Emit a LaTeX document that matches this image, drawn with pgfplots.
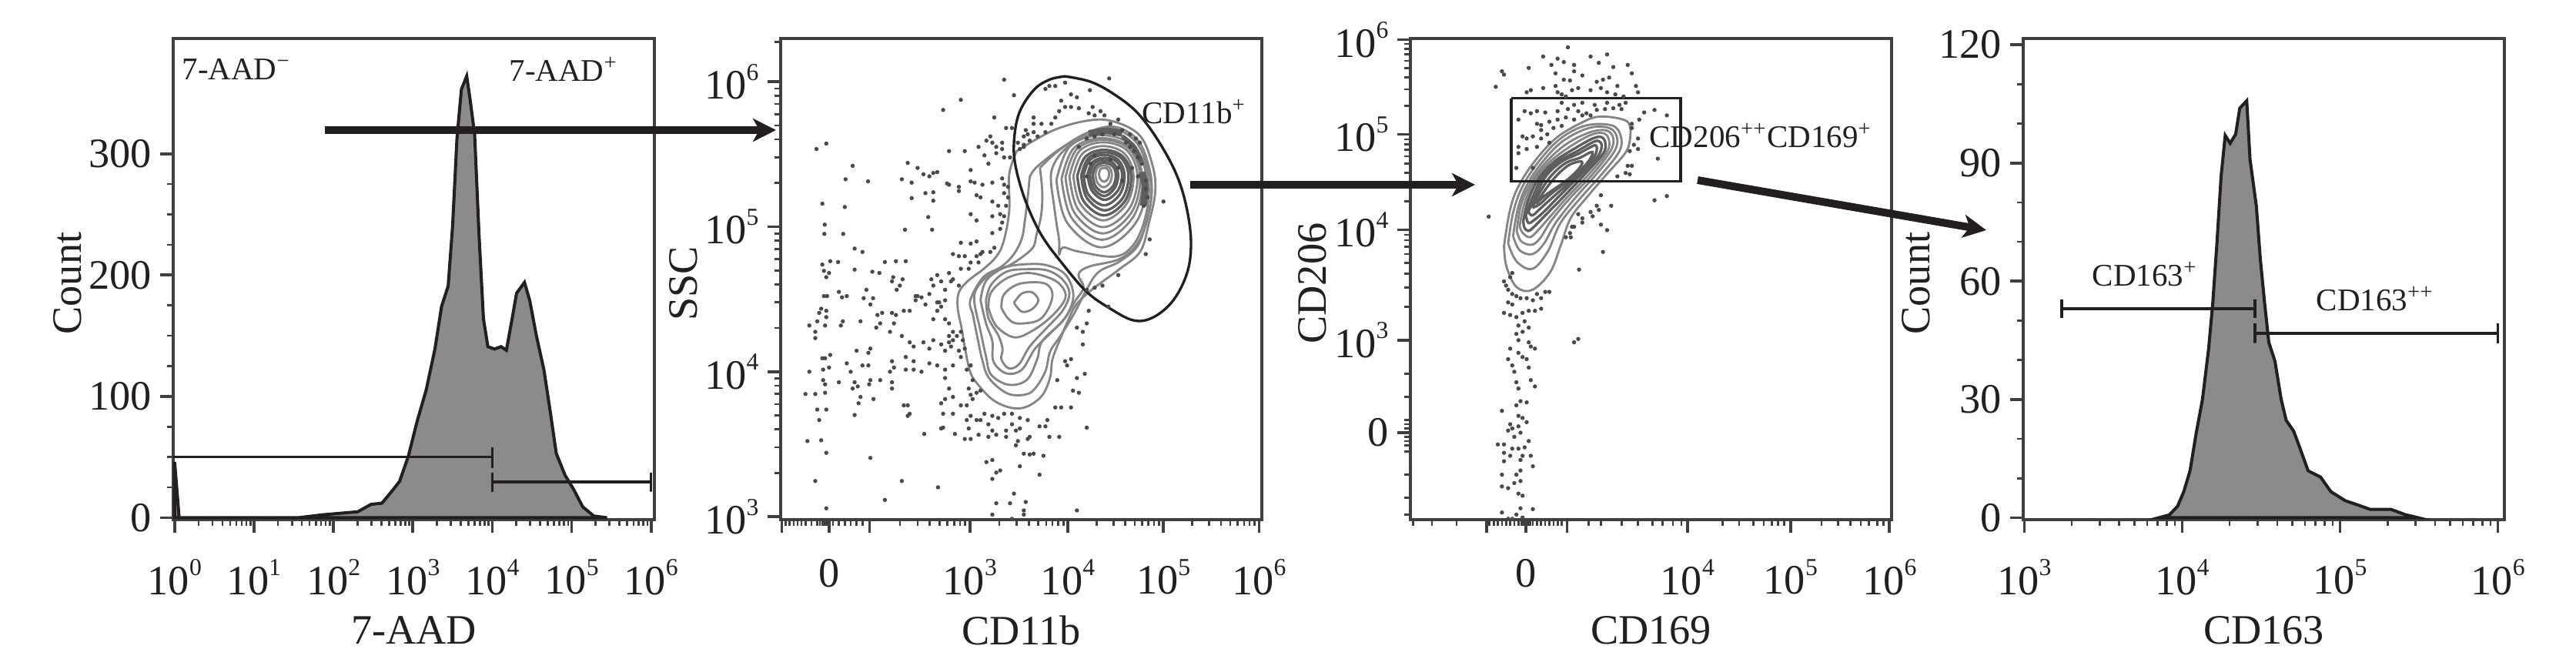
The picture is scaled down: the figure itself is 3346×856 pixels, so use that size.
\documentclass[border=0pt]{standalone}
\usepackage{fontspec}
\setmainfont{Liberation Serif}
\usepackage{pgfplots}
\pgfplotsset{compat=1.18}
\usetikzlibrary{arrows.meta}
\definecolor{ink}{HTML}{231F20}
\definecolor{frame}{HTML}{403E3F}
\definecolor{hist}{HTML}{8C8A8B}
\definecolor{ctr}{HTML}{858585}
\definecolor{ctrd}{HTML}{5E5E5E}
\definecolor{dot}{HTML}{4A4A4A}
\newcommand\up[1]{\raisebox{0.45em}{\fontsize{9.5}{9.5}\selectfont #1}}
\newcommand\biglab{\fontsize{16.3}{17}\selectfont}
\newcommand\smlab{\fontsize{12.3}{13}\selectfont}
\pgfplotsset{
  panel/.style={
    scale only axis, width=187.5pt, height=187.5pt,
    axis line style={color=frame,line width=1.1pt},
    tick style={color=frame},
    major tick length=5pt, minor tick length=2.4pt,
    every major tick/.append style={line width=1.1pt},
    every minor tick/.append style={line width=0.8pt},
    tick align=outside,
    ytick pos=left, xtick pos=bottom,
    tick label style={font=\biglab,text=ink},
    label style={font=\biglab,text=ink},
    /pgf/number format/assume math mode=true,
    ylabel style={anchor=center},
    xlabel style={anchor=center},
    xticklabel style={yshift=-7pt},
  },
  gate/.style={color=ink,line width=1.05pt,sharp plot,no marks},
  histline/.style={color=ink,line width=1.2pt,fill=hist,sharp plot,no marks},
  contour/.style={color=ctr,line width=0.85pt,smooth,tension=0.6,no marks},
  contourd/.style={color=ctrd,line width=1pt,smooth,tension=0.6,no marks},
  cells/.style={only marks,mark=*,mark size=0.6pt,color=dot},
}
\begin{document}
\begin{tikzpicture}[x=0.3pt,y=0.3pt]
\path[use as bounding box] (0,0) rectangle (3346,856);

% 7-AAD histogram
\begin{axis}[panel, at={(67.5pt,54.3pt)}, anchor=south west,
  xmode=log, xmin=0.96, xmax=1.1e6, ymin=-1.6, ymax=395,
  xtick={1,10,100,1000,10000,100000,1000000},
  xticklabels={10\up{0},10\up{1},10\up{2},10\up{3},10\up{4},10\up{5},10\up{6}},
  ytick={0,100,200,300}, minor y tick num=3,
  xlabel={7-AAD}, ylabel={Count},
  xlabel style={at={(axis description cs:0.5,-0.23)}},
  ylabel style={at={(axis description cs:-0.22,0.491)}},
]
\addplot[histline] coordinates {(1,46) (1.14,0) (36,0) (73,2.4) (202,4.9) (297,11) (408,12) (562,23)
 (681,30) (880,51) (1137,80) (1468,105) (1896,139) (2296,174) (2783,191) (3162,240) (3594,313)
 (4084,353) (4764,364) (5275,344) (5995,316) (6813,233) (7743,164) (8799,141) (10660,139)
 (12920,141) (15050,138) (17780,164) (20220,185) (25450,194) (29650,179) (35940,150) (44670,122)
 (52730,91) (63970,53) (82540,35) (106600,23) (137700,9) (189600,1.4) (278200,0)} \closedcycle;
\addplot[gate] coordinates {(0.96,50) (10000,50) (10000,58) (10000,41)};
\addplot[gate] coordinates {(1000000,37) (1000000,21.5) (1000000,29.5) (10000,29.5) (10000,37) (10000,21.5)};
\end{axis}

% CD11b vs SSC, in display channels of the plot
\begin{axis}[panel, at={(304.2pt,54.3pt)}, anchor=south west,
  xmin=262, xmax=1485, ymin=92, ymax=1237, y dir=reverse,
  xtick={265,385,488,743,992,1235,1478},
  xticklabels={,0,,10\up{3},10\up{4},10\up{5},10\up{6}},
  minor xtick={275,285,295,305,315,325,340,355,362,368,374,380,395,410,425,440,455,470,565,610,641,666,686,703,718,731,818,862,893,917,937,953,968,981,1065,1108,1138,1162,1181,1197,1211,1224,1308,1351,1381,1405,1424,1440,1454,1467},
  ytick={1230,885,540,195},
  yticklabels={10\up{3},10\up{4},10\up{5},10\up{6}},
  minor ytick={1126,1065,1022,989,962,938,918,901,781,720,677,644,617,593,573,556,436,375,332,299,272,248,228,211,100},
  xlabel={CD11b}, ylabel={SSC},
  xlabel style={at={(axis description cs:0.5,-0.23)}},
  ylabel style={at={(axis description cs:-0.202,0.491)}},
]
\addplot[cells] coordinates {(353,355) (378,342) (445,395) (427,427) (484,432) (368,485) (425,493) (374,535)
 (373,557) (421,557) (450,592) (470,600) (388,622) (408,624) (368,630) (372,645) (385,650) (378,660) (450,642)
 (495,647) (513,650) (527,624) (555,622) (580,622) (548,660) (572,665) (557,690) (545,670) (565,680) (410,695)
 (430,705) (418,708) (372,705) (380,705) (480,690) (473,710) (497,710) (490,725) (520,745) (508,750) (365,735)
 (378,740) (360,745) (355,765) (378,755) (375,775) (335,775) (350,790) (350,805) (420,765) (415,775) (465,765)
 (505,780) (515,770) (555,750) (575,740) (590,740) (610,705) (605,715) (620,708) (640,700) (630,725) (660,720)
 (680,715) (670,730) (660,740) (650,760) (545,745) (550,770) (540,790) (570,800) (590,815) (600,825) (625,815)
 (640,830) (580,850) (600,860) (650,810) (670,820) (690,815) (680,835) (700,810) (715,835) (720,850) (700,870)
 (680,880) (660,870) (640,865) (620,885) (600,880) (580,880) (545,860) (550,875) (540,885) (545,925) (545,910)
 (515,905) (490,905) (490,830) (485,840) (455,835) (470,870) (485,870) (430,865) (440,885) (335,885) (388,845)
 (368,853) (375,853) (385,875) (370,905) (375,915) (370,880) (410,910) (450,910) (458,920) (445,925) (487,915)
 (325,938) (350,938) (375,935) (465,945) (460,960) (498,950) (355,975) (378,975) (360,1000) (450,988) (585,965)
 (575,965) (585,990) (590,985) (627,1033) (670,1020) (330,1050) (365,1048) (378,1078) (490,1090) (570,1145)
 (350,1145) (662,1160) (378,1210) (527,1190)
 (720,238) (675,262) (830,190) (855,227) (805,280) (690,360) (730,360) (765,350) (795,325) (785,335) (825,340)
 (800,340) (810,350) (825,355) (850,305) (835,305) (780,370) (810,365) (830,375) (845,375) (790,390) (745,405)
 (660,410) (650,412) (610,400) (585,388) (625,415) (640,420) (570,427) (595,435) (685,437) (690,440) (715,445)
 (715,455) (650,458) (630,460) (595,472) (650,478) (745,432) (755,435) (775,440) (800,435) (825,425) (830,440)
 (840,445) (830,460) (760,465) (770,470) (800,480) (815,490) (835,490) (840,470) (637,517) (745,510) (760,525)
 (800,515) (820,510) (830,515) (825,530) (820,545) (578,547) (647,547) (800,555) (745,580) (760,575) (720,578)
 (775,600) (795,600) (805,590) (700,605) (715,610) (730,610) (760,610) (770,605) (745,625) (740,640) (765,625)
 (720,640) (690,650) (660,655) (650,680) (645,665) (670,670) (700,665) (715,680) (680,690) (695,670) (665,720)
 (605,705)
 (680,760) (690,770) (700,790) (710,800) (690,800) (695,825) (720,790) (725,810) (730,830) (745,870) (735,880)
 (750,905) (740,925) (745,940) (760,935) (770,930) (750,950) (735,965) (680,900) (690,925) (700,945) (680,950)
 (670,960) (675,985) (700,985) (720,965) (735,1000) (745,990) (760,1000) (780,985) (800,990) (790,1010) (770,1000)
 (815,995) (740,1020) (745,1045) (730,1045) (765,1035) (705,1033) (675,1018) (790,1040) (800,1025) (810,1035)
 (830,985) (850,985) (870,995) (890,1000) (850,1010) (835,1025) (860,1025) (870,1020) (865,1050) (890,1045)
 (895,1040) (835,1040) (880,1080) (905,1080) (895,1082) (930,1085) (860,1060) (800,1095) (785,1100) (820,1120)
 (810,1125) (800,1140) (870,1110) (920,1130) (855,1175) (810,1198) (845,1198) (885,1195) (800,1225) (850,1235)
 (880,1215) (880,1225) (1015,1215) (940,1000) (935,1015) (920,1015) (945,1040) (970,1040) (1040,1018) (960,970)
 (975,970) (1000,970) (1005,930) (965,905) (1015,900) (1035,890) (1020,935) (985,860) (990,870) (1000,855)
 (1030,820) (1040,770) (1030,790) (1015,780) (1045,740) (1040,690) (1060,685) (1080,680) (1095,730) (1120,655)
 (1190,605) (1200,570) (1235,480)
 (1097,187) (985,197) (960,205) (935,212) (945,205) (1048,215) (1000,225) (1015,232) (975,240) (985,255) (970,265)
 (1000,255) (1020,258) (1045,270) (1055,255) (1060,275) (1075,265) (1085,275) (905,280) (960,280) (905,295)
 (925,295) (950,295) (885,310) (865,340) (880,345) (895,335) (915,325) (935,315) (880,325) (890,320) (905,315)
 (870,355) (880,350) (1100,295) (1120,285)
 (1150,350) (1160,360) (1170,375) (1180,390) (1190,430) (1190,450) (1195,470) (1185,490) (1175,340) (1165,330)
 (1150,320) (1130,310) (1110,320) (1080,320) (1060,325) (1040,330) (1020,350) (1140,340) (1155,400) (1170,420)
 (1050,390) (1060,370) (1100,380) (1120,400) (1040,420) (1130,430)};
% contours spanning both populations
\addplot[contour] coordinates {(862,360) (954,311) (1045,287) (1110,290) (1176,324) (1208,397) (1214,458) (1198,531)
 (1176,599) (1123,641) (1078,672) (1045,696) (1012,727) (992,764) (973,806) (953,855) (947,898) (927,941) (888,968)
 (849,971) (803,953) (764,916) (744,886) (731,831) (722,782) (712,733) (715,696) (738,669) (777,641) (810,611)
 (829,574) (843,501) (843,415) (862,360)};
\addplot[contour] coordinates {(895,421) (914,397) (973,354) (1045,315) (1110,302) (1169,333) (1198,397) (1205,458)
 (1192,525) (1169,586) (1123,623) (1071,647) (1041,687) (1009,745) (973,800) (947,837) (934,886) (901,932) (862,941)
 (829,932) (790,898) (774,855) (764,812) (751,751) (744,715) (777,660) (823,635) (855,605) (875,568) (882,531)
 (890,470) (895,421)};
\addplot[contour] coordinates {(921,400) (967,360) (1038,318) (1104,305) (1163,336) (1192,391) (1205,452) (1195,519)
 (1169,580) (1123,617) (1045,635) (1019,654) (1032,684) (1012,715) (979,764) (927,812) (914,855) (888,904) (842,916)
 (797,892) (784,849) (770,788) (754,715) (765,680) (803,647) (849,629) (901,592) (912,560) (924,513) (927,458) (921,400)};
% lower population
\addplot[contour] coordinates {(770,715) (784,770) (800,812) (803,861) (836,889) (875,880) (908,831) (947,794) (989,751)
 (1006,702) (986,654) (940,632) (888,629) (829,638) (784,669) (770,715)};
\addplot[contour] coordinates {(784,715) (790,757) (816,800) (826,831) (823,855) (842,877) (868,867) (895,825) (940,779)
 (979,739) (996,699) (979,666) (940,644) (888,641) (836,647) (797,678) (784,715)};
\addplot[contour] coordinates {(790,733) (810,776) (855,803) (901,788) (953,751) (986,709) (973,678) (940,660) (888,650)
 (836,663) (797,696) (790,733)};
\addplot[contour] coordinates {(823,733) (839,757) (862,770) (914,764) (940,739) (953,702) (940,678) (908,672) (862,678)
 (829,702) (823,733)};
\addplot[contour] coordinates {(855,721) (875,742) (901,736) (917,715) (901,696) (875,699) (855,721)};
% upper population
\addplot[contour] coordinates {(954,470) (963,531) (970,574) (970,605) (980,589) (1019,599) (1110,611) (1156,586) (1185,531)
 (1198,458) (1189,397) (1156,342) (1104,315) (1038,324) (980,360) (950,409) (954,470)};
\addplot[contour] coordinates {(963,429) (997,349) (1078,322) (1158,349) (1192,429) (1165,530) (1078,589) (990,530) (963,429)};
\addplot[contour] coordinates {(976,426) (1007,353) (1079,329) (1151,353) (1182,426) (1157,518) (1079,571) (1001,518) (976,426)};
\addplot[contour] coordinates {(986,422) (1015,355) (1081,333) (1148,355) (1176,422) (1153,507) (1081,556) (1009,507) (986,422)};
\addplot[contour] coordinates {(996,420) (1022,359) (1082,339) (1143,359) (1169,420) (1148,497) (1082,541) (1017,497) (996,420)};
\addplot[contour] coordinates {(1006,419) (1029,366) (1082,348) (1136,366) (1159,419) (1141,486) (1082,525) (1024,486) (1006,419)};
\addplot[contourd] coordinates {(1016,419) (1037,373) (1084,357) (1132,373) (1153,419) (1137,479) (1084,513) (1032,479) (1016,419)};
\addplot[contourd] coordinates {(1026,418) (1044,377) (1086,363) (1128,377) (1146,418) (1132,471) (1086,501) (1040,471) (1026,418)};
\addplot[contourd] coordinates {(1032,417) (1048,381) (1084,369) (1120,381) (1136,417) (1124,463) (1084,489) (1044,463) (1032,417)};
\addplot[contourd] coordinates {(1042,416) (1055,386) (1086,376) (1117,386) (1130,416) (1119,454) (1086,476) (1053,454) (1042,416)};
\addplot[contourd] coordinates {(1048,416) (1059,390) (1084,382) (1109,390) (1120,416) (1111,448) (1084,467) (1057,448) (1048,416)};
\addplot[contourd] coordinates {(1055,416) (1064,395) (1084,388) (1105,395) (1114,416) (1107,443) (1084,458) (1062,443) (1055,416)};
\addplot[contour] coordinates {(1062,415) (1068,399) (1083,394) (1098,399) (1104,415) (1099,435) (1083,446) (1067,435) (1062,415)};
\addplot[contour] coordinates {(1071,413) (1075,403) (1084,400) (1093,403) (1097,413) (1094,426) (1084,433) (1074,426) (1071,413)};
% tightly packed levels near the top and right of the upper population
\addplot[color=ctrd,line width=2.6pt,smooth,no marks] coordinates {(1045,318) (1090,312) (1130,318)};
\addplot[color=ctrd,line width=2.6pt,smooth,no marks] coordinates {(1180,410) (1188,445) (1184,490)};
\addplot[color=ctrd,line width=1.8pt,smooth,no marks] coordinates {(1130,325) (1160,350) (1178,385)};
% CD11b+ gate
\addplot[color=ink,line width=1pt,smooth,tension=0.6,no marks] coordinates {(985,182) (1050,195) (1110,225) (1170,270)
 (1225,340) (1270,420) (1295,500) (1305,580) (1295,650) (1260,715) (1210,755) (1160,763) (1100,735) (1040,695) (980,630)
 (925,560) (885,480) (860,400) (855,340) (868,270) (905,215) (945,190) (985,182)};
\end{axis}

% CD169 vs CD206
\begin{axis}[panel, at={(549.6pt,54.3pt)}, anchor=south west,
  xmin=283, xmax=1450, ymin=92, ymax=1237, y dir=reverse,
  xtick={468,563,663,955,1205,1445},
  xticklabels={,0,,10\up{4},10\up{5},10\up{6}},
  minor xtick={290,335,395,475,485,495,505,515,525,535,545,553,558,568,573,580,590,600,610,620,630,640,650,715,745,795,835,870,895,920,940,1040,1080,1115,1140,1160,1175,1190,1280,1320,1350,1375,1395,1415,1430},
  ytick={95,320,547,810,1030},
  yticklabels={10\up{6},10\up{5},10\up{4},10\up{3},0},
  minor ytick={479,440,412,390,372,357,344,332,252,213,185,163,145,130,117,105,731,685,652,626,605,588,572,559,890,945,1000,1010,1020,1040,1050,1060,1075,1130,1185,1225},
  xlabel={CD169}, ylabel={CD206},
  xlabel style={at={(axis description cs:0.5,-0.23)}},
  ylabel style={at={(axis description cs:-0.203,0.491)}},
]
\addplot[cells] coordinates {(665,113) (605,135) (640,140) (655,148) (720,135) (760,130) (625,155) (680,155) (740,150)
 (775,160) (810,155) (505,170) (510,178) (570,162) (635,175) (680,170) (655,190) (670,192) (700,180) (735,195) (750,190)
 (765,185) (785,205) (820,175) (490,207) (575,215) (605,210) (635,205) (640,220) (675,215) (690,210) (720,215) (830,205)
 (835,220) (745,210) (760,220) (780,225) (800,230) (565,220) (650,225) (660,230)
 (650,245) (680,250) (700,245) (730,250) (760,245) (790,250) (805,245) (560,265) (575,270) (590,265) (610,268) (640,265)
 (665,260) (690,265) (710,270) (735,262) (755,260) (775,258) (795,260) (545,285) (590,295) (600,298) (620,290) (640,285)
 (660,280) (680,285) (700,275) (720,275) (850,268) (875,262) (905,275) (838,285) (820,295) (820,305) (600,310) (630,305)
 (650,300) (615,320) (555,325) (565,330) (580,325) (600,330) (620,340) (545,350) (545,365) (565,355) (590,350) (835,330)
 (825,345) (835,355) (815,360) (883,378) (810,395) (820,395) (805,412) (815,415) (785,420) (540,400) (580,400)
 (875,477) (905,467) (745,465) (770,490) (735,490) (740,500) (700,520) (725,515) (720,505) (690,510) (700,530) (745,535)
 (760,548) (680,540) (670,555) (672,565) (750,600) (692,642) (473,516) (675,540) (660,565)
 (515,680) (510,670) (525,660) (530,650) (520,690) (530,700) (540,705) (550,710) (565,710) (580,715) (600,710) (590,700)
 (610,695) (620,695) (510,745) (525,750) (540,755) (555,745) (570,740) (585,740) (600,735) (520,720) (530,725) (560,765)
 (545,775) (555,790) (570,780) (540,795) (545,810) (570,815) (585,830) (575,825) (525,830) (545,840) (555,850) (565,855)
 (520,855) (530,870) (570,875) (535,885) (575,905) (585,920) (540,910) (545,925) (680,815) (690,807) (550,955) (565,958)
 (540,965) (505,978) (545,990) (555,995) (565,1005) (525,1010) (545,1015) (530,1020) (520,1025) (550,1030) (535,1040)
 (570,1050) (510,1058) (495,1058) (530,1068) (545,1068) (560,1065) (510,1078) (525,1085) (555,1085) (575,1085) (550,1095)
 (510,1098) (580,1110) (550,1120) (540,1130) (505,1130) (550,1145) (535,1150) (505,1158) (520,1162) (545,1175) (555,1180)
 (505,1220) (540,1225) (550,1210) (580,1212) (530,1235) (520,1235) (555,1232)};
\addplot[contour] coordinates {(510,586) (523,507) (541,452) (579,391) (635,330) (697,293) (740,278) (796,284) (815,299)
 (815,336) (803,366) (759,415) (716,464) (672,519) (647,586) (622,648) (579,690) (541,684) (516,635) (510,586)};
\addplot[contour] coordinates {(520,580) (532,507) (554,446) (594,385) (647,330) (709,299) (772,299) (793,324) (790,360)
 (747,415) (697,470) (647,531) (616,599) (579,640) (541,623) (520,580)};
\addplot[contour] coordinates {(532,562) (544,495) (566,440) (604,385) (653,336) (716,305) (765,305) (784,327) (778,360)
 (734,415) (684,470) (635,531) (607,580) (579,605) (548,596) (532,562)};
\addplot[contour] coordinates {(541,550) (551,489) (576,434) (613,385) (663,342) (719,315) (759,311) (775,330) (768,360)
 (725,415) (672,470) (625,525) (597,568) (576,583) (551,574) (541,550)};
\addplot[contour] coordinates {(548,538) (560,483) (585,428) (622,385) (672,348) (722,321) (753,318) (765,336) (759,363)
 (716,415) (663,470) (619,519) (591,550) (572,565) (554,553) (548,538)};
\addplot[contourd] coordinates {(557,525) (569,476) (594,425) (632,385) (681,354) (725,330) (747,327) (756,342) (750,366)
 (706,415) (653,470) (613,510) (585,538) (569,550) (559,541) (557,525)};
\addplot[contourd] coordinates {(563,513) (579,470) (604,421) (641,385) (688,360) (725,339) (740,336) (747,348) (737,373)
 (697,415) (644,467) (607,504) (582,525) (569,531) (563,513)};
\addplot[contourd] coordinates {(569,504) (588,464) (613,418) (650,385) (691,366) (725,348) (734,348) (734,363) (722,382)
 (688,418) (635,464) (600,495) (579,513) (569,504)};
\addplot[contourd] coordinates {(579,495) (597,458) (625,418) (660,388) (694,376) (719,363) (725,366) (712,388) (678,421)
 (625,461) (597,486) (579,495)};
\addplot[contourd] coordinates {(588,486) (610,452) (638,418) (666,394) (691,385) (700,388) (688,406) (660,431) (616,461)
 (594,479) (588,486)};
% CD206++CD169+ gate
\addplot[color=ink,line width=1.1pt,sharp plot,no marks] coordinates {(527,234) (938,234) (938,432) (527,432) (527,234)};
\end{axis}

% CD163 histogram
\begin{axis}[panel, at={(788.4pt,54.3pt)}, anchor=south west,
  xmode=log, xmin=985, xmax=1.1e6, ymin=-0.5, ymax=121.6,
  xtick={1000,10000,100000,1000000},
  xticklabels={10\up{3},10\up{4},10\up{5},10\up{6}},
  ytick={0,30,60,90,120}, minor y tick num=2,
  xlabel={CD163}, ylabel={Count},
  xlabel style={at={(axis description cs:0.5,-0.23)}},
  ylabel style={at={(axis description cs:-0.222,0.491)}},
]
\addplot[histline] coordinates {(7130,0) (8293,0.7) (9354,2.9) (10240,6.6) (11220,11.9) (12280,21.5) (13450,30) (14720,42.9)
 (15640,54.6) (16600,69.5) (17650,86.6) (18750,97) (20140,95) (21830,97.3) (23170,103.9) (25650,105.8) (26920,90.9)
 (29510,79.1) (31330,65.3) (33270,54.6) (35400,44.5) (38730,39.7) (42360,30.1) (45600,24.7) (50820,22) (55590,17.8)
 (62810,11.9) (75340,10.3) (87500,6.6) (108100,4.3) (125900,3.4) (155600,2.1) (210400,2.1) (260000,0.75) (311200,0)} \closedcycle;
\addplot[gate] coordinates {(1722,55.4) (1722,50.7) (1722,53) (28970,53) (28970,55.4) (28970,50.7)};
\addplot[gate] coordinates {(28970,49.3) (28970,44.3) (28970,46.8) (1000000,46.8) (1000000,49.3) (1000000,44.3)};
\end{axis}

% gate names, in page pixels from the bottom left
\begin{scope}[every node/.style={font=\smlab,text=ink,inner sep=0pt}]
\node at (307,766) {7-AAD\textsuperscript{−}};
\node at (732,766) {7-AAD\textsuperscript{+}};
\node at (1551,711) {CD11b\textsuperscript{+}};
\node at (2287,680) {CD206\textsuperscript{++}CD169\textsuperscript{+}};
\node at (2786,500) {CD163\textsuperscript{+}};
\node at (3085,468) {CD163\textsuperscript{++}};
\end{scope}

% arrows between the panels
\begin{scope}[color=ink,line width=3pt,-{Stealth[length=9pt,width=9pt,inset=2.5pt]}]
\draw (422,687) -- (1008,687);
\draw (1546,616) -- (1916,616);
\draw (2205,622) -- (2580,557);
\end{scope}
\end{tikzpicture}
\end{document}
